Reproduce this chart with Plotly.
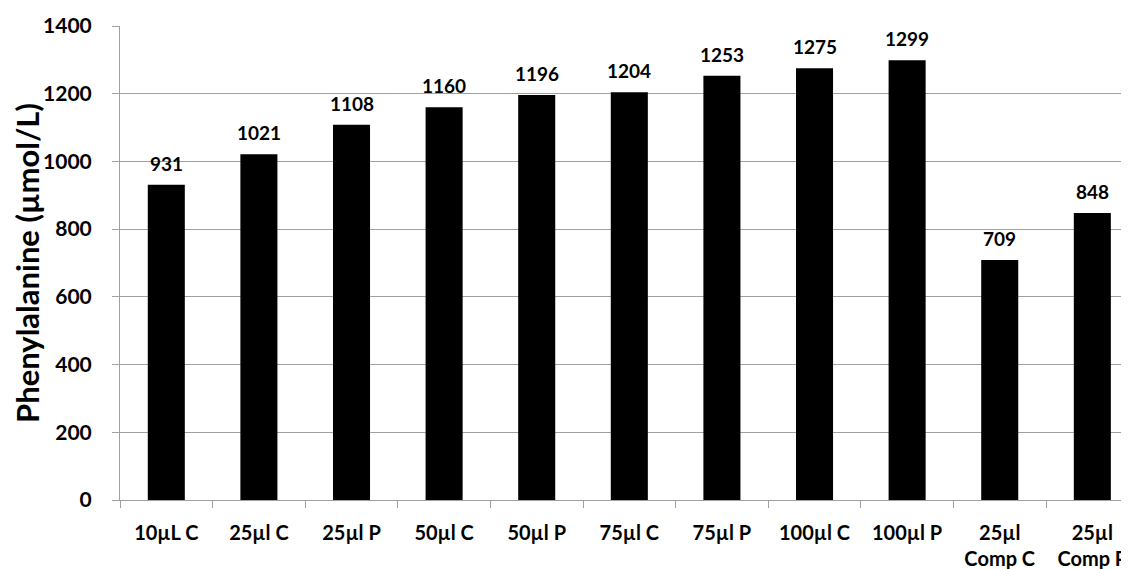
import plotly.graph_objects as go

categories = ["10µL C", "25µl C", "25µl P", "50µl C", "50µl P", "75µl C",
              "75µl P", "100µl C", "100µl P", "25µl<br>Comp C", "25µl<br>Comp P"]
values = [931, 1021, 1108, 1160, 1196, 1204, 1253, 1275, 1299, 709, 848]
y_ticks = [0, 200, 400, 600, 800, 1000, 1200, 1400]

FONT = "Lato"
fig = go.Figure()
fig.add_trace(go.Bar(x=categories, y=values, marker=dict(color="black", line=dict(width=0)),
                     width=0.4, hoverinfo="x+y"))

for c, v in zip(categories, values):
    fig.add_annotation(x=c, y=v, text=str(v), showarrow=False, yanchor="bottom", yshift=8,
                       font=dict(family=FONT, size=19, color="black", weight="bold"))

fig.update_layout(
    width=1121, height=561,
    margin=dict(l=112, r=0, t=18, b=69),
    paper_bgcolor="white", plot_bgcolor="white",
    showlegend=False,
    bargap=0.6,
    font=dict(family=FONT, color="black"),
)
fig.update_xaxes(
    type="category", range=[-0.5, 10.396],
    tickson="boundaries", ticks="outside", ticklen=7, tickcolor="#a0a0a0", tickwidth=1,
    showline=True, linecolor="#a0a0a0", linewidth=1,
    showgrid=False,
    tickfont=dict(family=FONT, size=20, color="black", weight="bold"),
    ticklabelstandoff=15,
)
fig.update_yaxes(
    range=[0, 1400], tickvals=y_ticks,
    ticks="outside", ticklen=7, tickcolor="#a0a0a0", tickwidth=1,
    showline=True, linecolor="#a0a0a0", linewidth=1,
    showgrid=True, gridcolor="#a0a0a0", gridwidth=1,
    zeroline=False,
    tickfont=dict(family=FONT, size=21, color="black", weight="bold"),
    ticklabelstandoff=16,
    title=dict(text="Phenylalanine (µmol/L)", font=dict(family=FONT, size=31, color="black", weight="bold"),
               standoff=12),
)

fig.write_html("out.html")
